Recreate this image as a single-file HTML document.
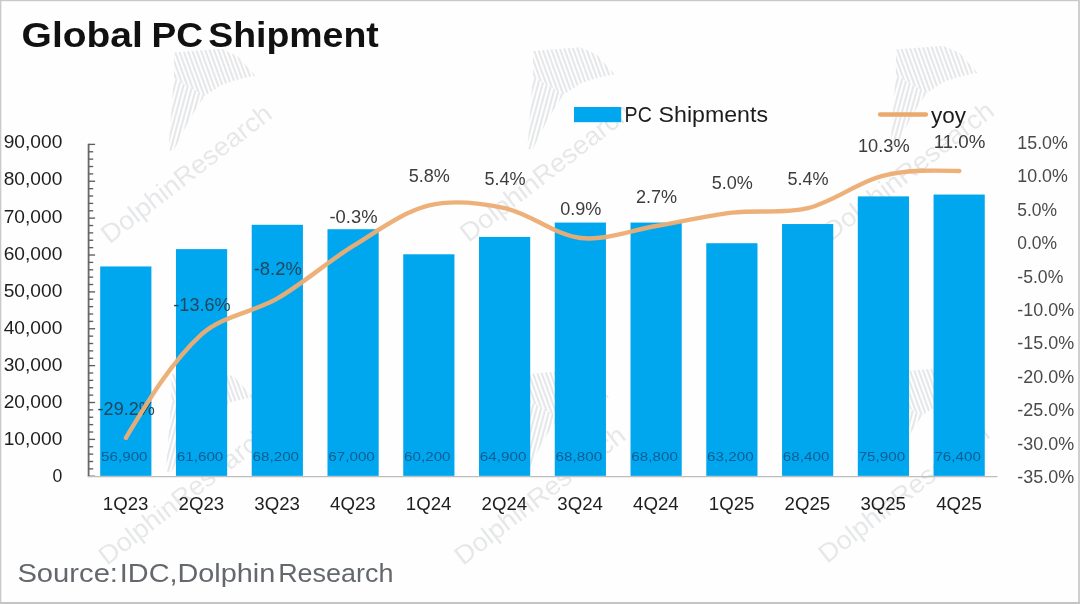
<!DOCTYPE html>
<html lang="en"><head><meta charset="utf-8"><title>Global PC Shipment</title>
<style>html,body{margin:0;padding:0;background:#fff;}body{width:1080px;height:604px;overflow:hidden;font-family:"Liberation Sans",Arial,sans-serif;}svg{display:block;}text{font-family:"Liberation Sans",Arial,sans-serif;}</style></head><body>
<svg width="1080" height="604" viewBox="0 0 1080 604" role="img" aria-label="Global PC Shipment chart">
<rect x="0" y="0" width="1080" height="604" fill="#fefefe"/>
<rect x="0" y="0" width="1080" height="1.2" fill="#c9c9c9"/>
<rect x="0" y="0" width="1.3" height="604" fill="#c9c9c9"/>
<rect x="1078" y="0" width="2" height="604" fill="#cfcfcf"/>
<rect x="0" y="602" width="1080" height="2" fill="#c4c4c4"/>
<g font-size="34.4" font-weight="bold" fill="#111">
<text y="47.4"><tspan x="21.6" textLength="121.2" lengthAdjust="spacingAndGlyphs">Global</tspan> <tspan x="151.6" textLength="51.5" lengthAdjust="spacingAndGlyphs">PC</tspan> <tspan x="208.2" textLength="170.6" lengthAdjust="spacingAndGlyphs">Shipment</tspan></text>
</g>
<defs><clipPath id="finA"><polygon points="74.3,-195.1 121.6,-198.7 138,-191.4 156.2,-171.4 148.9,-170.5 134.4,-166.8 121.6,-162.3 110.7,-155 105.2,-151.4 74.3,-169.6"/></clipPath><clipPath id="finB"><polygon points="74.3,-169.6 105.2,-151.4 101.6,-145.9 94.3,-135 87,-122.2 79.7,-107.6 74.3,-96.7 68.8,-96.7 71.5,-133.1"/></clipPath></defs>
<g transform="translate(99.5,247.5)" opacity="0.14"><g clip-path="url(#finA)" stroke="#5a6270" stroke-width="2.1"><line x1="30.0" y1="-200" x2="50.0" y2="-145"/><line x1="34.4" y1="-200" x2="54.4" y2="-145"/><line x1="38.8" y1="-200" x2="58.8" y2="-145"/><line x1="43.2" y1="-200" x2="63.2" y2="-145"/><line x1="47.6" y1="-200" x2="67.6" y2="-145"/><line x1="52.0" y1="-200" x2="72.0" y2="-145"/><line x1="56.4" y1="-200" x2="76.4" y2="-145"/><line x1="60.8" y1="-200" x2="80.8" y2="-145"/><line x1="65.2" y1="-200" x2="85.2" y2="-145"/><line x1="69.6" y1="-200" x2="89.6" y2="-145"/><line x1="74.0" y1="-200" x2="94.0" y2="-145"/><line x1="78.4" y1="-200" x2="98.4" y2="-145"/><line x1="82.8" y1="-200" x2="102.8" y2="-145"/><line x1="87.2" y1="-200" x2="107.2" y2="-145"/><line x1="91.6" y1="-200" x2="111.6" y2="-145"/><line x1="96.0" y1="-200" x2="116.0" y2="-145"/><line x1="100.4" y1="-200" x2="120.4" y2="-145"/><line x1="104.8" y1="-200" x2="124.8" y2="-145"/><line x1="109.2" y1="-200" x2="129.2" y2="-145"/><line x1="113.6" y1="-200" x2="133.6" y2="-145"/><line x1="118.0" y1="-200" x2="138.0" y2="-145"/><line x1="122.4" y1="-200" x2="142.4" y2="-145"/><line x1="126.8" y1="-200" x2="146.8" y2="-145"/><line x1="131.2" y1="-200" x2="151.2" y2="-145"/><line x1="135.6" y1="-200" x2="155.6" y2="-145"/><line x1="140.0" y1="-200" x2="160.0" y2="-145"/><line x1="144.4" y1="-200" x2="164.4" y2="-145"/><line x1="148.8" y1="-200" x2="168.8" y2="-145"/><line x1="153.2" y1="-200" x2="173.2" y2="-145"/><line x1="157.6" y1="-200" x2="177.6" y2="-145"/><line x1="162.0" y1="-200" x2="182.0" y2="-145"/></g><g clip-path="url(#finB)" stroke="#5a6270" stroke-width="2.1"><line x1="70.0" y1="-175" x2="48.4" y2="-95"/><line x1="74.4" y1="-175" x2="52.8" y2="-95"/><line x1="78.8" y1="-175" x2="57.2" y2="-95"/><line x1="83.2" y1="-175" x2="61.6" y2="-95"/><line x1="87.6" y1="-175" x2="66.0" y2="-95"/><line x1="92.0" y1="-175" x2="70.4" y2="-95"/><line x1="96.4" y1="-175" x2="74.8" y2="-95"/><line x1="100.8" y1="-175" x2="79.2" y2="-95"/><line x1="105.2" y1="-175" x2="83.6" y2="-95"/><line x1="109.6" y1="-175" x2="88.0" y2="-95"/><line x1="114.0" y1="-175" x2="92.4" y2="-95"/><line x1="118.4" y1="-175" x2="96.8" y2="-95"/><line x1="122.8" y1="-175" x2="101.2" y2="-95"/><line x1="127.2" y1="-175" x2="105.6" y2="-95"/><line x1="131.6" y1="-175" x2="110.0" y2="-95"/></g><text transform="translate(10,-3) rotate(-37.8)" x="0" y="0" font-size="26" fill="#5a6270" textLength="208" lengthAdjust="spacingAndGlyphs">DolphinResearch</text></g>
<g transform="translate(458.5,246)" opacity="0.14"><g clip-path="url(#finA)" stroke="#5a6270" stroke-width="2.1"><line x1="30.0" y1="-200" x2="50.0" y2="-145"/><line x1="34.4" y1="-200" x2="54.4" y2="-145"/><line x1="38.8" y1="-200" x2="58.8" y2="-145"/><line x1="43.2" y1="-200" x2="63.2" y2="-145"/><line x1="47.6" y1="-200" x2="67.6" y2="-145"/><line x1="52.0" y1="-200" x2="72.0" y2="-145"/><line x1="56.4" y1="-200" x2="76.4" y2="-145"/><line x1="60.8" y1="-200" x2="80.8" y2="-145"/><line x1="65.2" y1="-200" x2="85.2" y2="-145"/><line x1="69.6" y1="-200" x2="89.6" y2="-145"/><line x1="74.0" y1="-200" x2="94.0" y2="-145"/><line x1="78.4" y1="-200" x2="98.4" y2="-145"/><line x1="82.8" y1="-200" x2="102.8" y2="-145"/><line x1="87.2" y1="-200" x2="107.2" y2="-145"/><line x1="91.6" y1="-200" x2="111.6" y2="-145"/><line x1="96.0" y1="-200" x2="116.0" y2="-145"/><line x1="100.4" y1="-200" x2="120.4" y2="-145"/><line x1="104.8" y1="-200" x2="124.8" y2="-145"/><line x1="109.2" y1="-200" x2="129.2" y2="-145"/><line x1="113.6" y1="-200" x2="133.6" y2="-145"/><line x1="118.0" y1="-200" x2="138.0" y2="-145"/><line x1="122.4" y1="-200" x2="142.4" y2="-145"/><line x1="126.8" y1="-200" x2="146.8" y2="-145"/><line x1="131.2" y1="-200" x2="151.2" y2="-145"/><line x1="135.6" y1="-200" x2="155.6" y2="-145"/><line x1="140.0" y1="-200" x2="160.0" y2="-145"/><line x1="144.4" y1="-200" x2="164.4" y2="-145"/><line x1="148.8" y1="-200" x2="168.8" y2="-145"/><line x1="153.2" y1="-200" x2="173.2" y2="-145"/><line x1="157.6" y1="-200" x2="177.6" y2="-145"/><line x1="162.0" y1="-200" x2="182.0" y2="-145"/></g><g clip-path="url(#finB)" stroke="#5a6270" stroke-width="2.1"><line x1="70.0" y1="-175" x2="48.4" y2="-95"/><line x1="74.4" y1="-175" x2="52.8" y2="-95"/><line x1="78.8" y1="-175" x2="57.2" y2="-95"/><line x1="83.2" y1="-175" x2="61.6" y2="-95"/><line x1="87.6" y1="-175" x2="66.0" y2="-95"/><line x1="92.0" y1="-175" x2="70.4" y2="-95"/><line x1="96.4" y1="-175" x2="74.8" y2="-95"/><line x1="100.8" y1="-175" x2="79.2" y2="-95"/><line x1="105.2" y1="-175" x2="83.6" y2="-95"/><line x1="109.6" y1="-175" x2="88.0" y2="-95"/><line x1="114.0" y1="-175" x2="92.4" y2="-95"/><line x1="118.4" y1="-175" x2="96.8" y2="-95"/><line x1="122.8" y1="-175" x2="101.2" y2="-95"/><line x1="127.2" y1="-175" x2="105.6" y2="-95"/><line x1="131.6" y1="-175" x2="110.0" y2="-95"/></g><text transform="translate(10,-3) rotate(-37.8)" x="0" y="0" font-size="26" fill="#5a6270" textLength="208" lengthAdjust="spacingAndGlyphs">DolphinResearch</text></g>
<g transform="translate(821.5,244.5)" opacity="0.14"><g clip-path="url(#finA)" stroke="#5a6270" stroke-width="2.1"><line x1="30.0" y1="-200" x2="50.0" y2="-145"/><line x1="34.4" y1="-200" x2="54.4" y2="-145"/><line x1="38.8" y1="-200" x2="58.8" y2="-145"/><line x1="43.2" y1="-200" x2="63.2" y2="-145"/><line x1="47.6" y1="-200" x2="67.6" y2="-145"/><line x1="52.0" y1="-200" x2="72.0" y2="-145"/><line x1="56.4" y1="-200" x2="76.4" y2="-145"/><line x1="60.8" y1="-200" x2="80.8" y2="-145"/><line x1="65.2" y1="-200" x2="85.2" y2="-145"/><line x1="69.6" y1="-200" x2="89.6" y2="-145"/><line x1="74.0" y1="-200" x2="94.0" y2="-145"/><line x1="78.4" y1="-200" x2="98.4" y2="-145"/><line x1="82.8" y1="-200" x2="102.8" y2="-145"/><line x1="87.2" y1="-200" x2="107.2" y2="-145"/><line x1="91.6" y1="-200" x2="111.6" y2="-145"/><line x1="96.0" y1="-200" x2="116.0" y2="-145"/><line x1="100.4" y1="-200" x2="120.4" y2="-145"/><line x1="104.8" y1="-200" x2="124.8" y2="-145"/><line x1="109.2" y1="-200" x2="129.2" y2="-145"/><line x1="113.6" y1="-200" x2="133.6" y2="-145"/><line x1="118.0" y1="-200" x2="138.0" y2="-145"/><line x1="122.4" y1="-200" x2="142.4" y2="-145"/><line x1="126.8" y1="-200" x2="146.8" y2="-145"/><line x1="131.2" y1="-200" x2="151.2" y2="-145"/><line x1="135.6" y1="-200" x2="155.6" y2="-145"/><line x1="140.0" y1="-200" x2="160.0" y2="-145"/><line x1="144.4" y1="-200" x2="164.4" y2="-145"/><line x1="148.8" y1="-200" x2="168.8" y2="-145"/><line x1="153.2" y1="-200" x2="173.2" y2="-145"/><line x1="157.6" y1="-200" x2="177.6" y2="-145"/><line x1="162.0" y1="-200" x2="182.0" y2="-145"/></g><g clip-path="url(#finB)" stroke="#5a6270" stroke-width="2.1"><line x1="70.0" y1="-175" x2="48.4" y2="-95"/><line x1="74.4" y1="-175" x2="52.8" y2="-95"/><line x1="78.8" y1="-175" x2="57.2" y2="-95"/><line x1="83.2" y1="-175" x2="61.6" y2="-95"/><line x1="87.6" y1="-175" x2="66.0" y2="-95"/><line x1="92.0" y1="-175" x2="70.4" y2="-95"/><line x1="96.4" y1="-175" x2="74.8" y2="-95"/><line x1="100.8" y1="-175" x2="79.2" y2="-95"/><line x1="105.2" y1="-175" x2="83.6" y2="-95"/><line x1="109.6" y1="-175" x2="88.0" y2="-95"/><line x1="114.0" y1="-175" x2="92.4" y2="-95"/><line x1="118.4" y1="-175" x2="96.8" y2="-95"/><line x1="122.8" y1="-175" x2="101.2" y2="-95"/><line x1="127.2" y1="-175" x2="105.6" y2="-95"/><line x1="131.6" y1="-175" x2="110.0" y2="-95"/></g><text transform="translate(10,-3) rotate(-37.8)" x="0" y="0" font-size="26" fill="#5a6270" textLength="208" lengthAdjust="spacingAndGlyphs">DolphinResearch</text></g>
<g transform="translate(97,569)" opacity="0.14"><g clip-path="url(#finA)" stroke="#5a6270" stroke-width="2.1"><line x1="30.0" y1="-200" x2="50.0" y2="-145"/><line x1="34.4" y1="-200" x2="54.4" y2="-145"/><line x1="38.8" y1="-200" x2="58.8" y2="-145"/><line x1="43.2" y1="-200" x2="63.2" y2="-145"/><line x1="47.6" y1="-200" x2="67.6" y2="-145"/><line x1="52.0" y1="-200" x2="72.0" y2="-145"/><line x1="56.4" y1="-200" x2="76.4" y2="-145"/><line x1="60.8" y1="-200" x2="80.8" y2="-145"/><line x1="65.2" y1="-200" x2="85.2" y2="-145"/><line x1="69.6" y1="-200" x2="89.6" y2="-145"/><line x1="74.0" y1="-200" x2="94.0" y2="-145"/><line x1="78.4" y1="-200" x2="98.4" y2="-145"/><line x1="82.8" y1="-200" x2="102.8" y2="-145"/><line x1="87.2" y1="-200" x2="107.2" y2="-145"/><line x1="91.6" y1="-200" x2="111.6" y2="-145"/><line x1="96.0" y1="-200" x2="116.0" y2="-145"/><line x1="100.4" y1="-200" x2="120.4" y2="-145"/><line x1="104.8" y1="-200" x2="124.8" y2="-145"/><line x1="109.2" y1="-200" x2="129.2" y2="-145"/><line x1="113.6" y1="-200" x2="133.6" y2="-145"/><line x1="118.0" y1="-200" x2="138.0" y2="-145"/><line x1="122.4" y1="-200" x2="142.4" y2="-145"/><line x1="126.8" y1="-200" x2="146.8" y2="-145"/><line x1="131.2" y1="-200" x2="151.2" y2="-145"/><line x1="135.6" y1="-200" x2="155.6" y2="-145"/><line x1="140.0" y1="-200" x2="160.0" y2="-145"/><line x1="144.4" y1="-200" x2="164.4" y2="-145"/><line x1="148.8" y1="-200" x2="168.8" y2="-145"/><line x1="153.2" y1="-200" x2="173.2" y2="-145"/><line x1="157.6" y1="-200" x2="177.6" y2="-145"/><line x1="162.0" y1="-200" x2="182.0" y2="-145"/></g><g clip-path="url(#finB)" stroke="#5a6270" stroke-width="2.1"><line x1="70.0" y1="-175" x2="48.4" y2="-95"/><line x1="74.4" y1="-175" x2="52.8" y2="-95"/><line x1="78.8" y1="-175" x2="57.2" y2="-95"/><line x1="83.2" y1="-175" x2="61.6" y2="-95"/><line x1="87.6" y1="-175" x2="66.0" y2="-95"/><line x1="92.0" y1="-175" x2="70.4" y2="-95"/><line x1="96.4" y1="-175" x2="74.8" y2="-95"/><line x1="100.8" y1="-175" x2="79.2" y2="-95"/><line x1="105.2" y1="-175" x2="83.6" y2="-95"/><line x1="109.6" y1="-175" x2="88.0" y2="-95"/><line x1="114.0" y1="-175" x2="92.4" y2="-95"/><line x1="118.4" y1="-175" x2="96.8" y2="-95"/><line x1="122.8" y1="-175" x2="101.2" y2="-95"/><line x1="127.2" y1="-175" x2="105.6" y2="-95"/><line x1="131.6" y1="-175" x2="110.0" y2="-95"/></g><text transform="translate(10,-3) rotate(-37.8)" x="0" y="0" font-size="26" fill="#5a6270" textLength="208" lengthAdjust="spacingAndGlyphs">DolphinResearch</text></g>
<g transform="translate(453,569)" opacity="0.14"><g clip-path="url(#finA)" stroke="#5a6270" stroke-width="2.1"><line x1="30.0" y1="-200" x2="50.0" y2="-145"/><line x1="34.4" y1="-200" x2="54.4" y2="-145"/><line x1="38.8" y1="-200" x2="58.8" y2="-145"/><line x1="43.2" y1="-200" x2="63.2" y2="-145"/><line x1="47.6" y1="-200" x2="67.6" y2="-145"/><line x1="52.0" y1="-200" x2="72.0" y2="-145"/><line x1="56.4" y1="-200" x2="76.4" y2="-145"/><line x1="60.8" y1="-200" x2="80.8" y2="-145"/><line x1="65.2" y1="-200" x2="85.2" y2="-145"/><line x1="69.6" y1="-200" x2="89.6" y2="-145"/><line x1="74.0" y1="-200" x2="94.0" y2="-145"/><line x1="78.4" y1="-200" x2="98.4" y2="-145"/><line x1="82.8" y1="-200" x2="102.8" y2="-145"/><line x1="87.2" y1="-200" x2="107.2" y2="-145"/><line x1="91.6" y1="-200" x2="111.6" y2="-145"/><line x1="96.0" y1="-200" x2="116.0" y2="-145"/><line x1="100.4" y1="-200" x2="120.4" y2="-145"/><line x1="104.8" y1="-200" x2="124.8" y2="-145"/><line x1="109.2" y1="-200" x2="129.2" y2="-145"/><line x1="113.6" y1="-200" x2="133.6" y2="-145"/><line x1="118.0" y1="-200" x2="138.0" y2="-145"/><line x1="122.4" y1="-200" x2="142.4" y2="-145"/><line x1="126.8" y1="-200" x2="146.8" y2="-145"/><line x1="131.2" y1="-200" x2="151.2" y2="-145"/><line x1="135.6" y1="-200" x2="155.6" y2="-145"/><line x1="140.0" y1="-200" x2="160.0" y2="-145"/><line x1="144.4" y1="-200" x2="164.4" y2="-145"/><line x1="148.8" y1="-200" x2="168.8" y2="-145"/><line x1="153.2" y1="-200" x2="173.2" y2="-145"/><line x1="157.6" y1="-200" x2="177.6" y2="-145"/><line x1="162.0" y1="-200" x2="182.0" y2="-145"/></g><g clip-path="url(#finB)" stroke="#5a6270" stroke-width="2.1"><line x1="70.0" y1="-175" x2="48.4" y2="-95"/><line x1="74.4" y1="-175" x2="52.8" y2="-95"/><line x1="78.8" y1="-175" x2="57.2" y2="-95"/><line x1="83.2" y1="-175" x2="61.6" y2="-95"/><line x1="87.6" y1="-175" x2="66.0" y2="-95"/><line x1="92.0" y1="-175" x2="70.4" y2="-95"/><line x1="96.4" y1="-175" x2="74.8" y2="-95"/><line x1="100.8" y1="-175" x2="79.2" y2="-95"/><line x1="105.2" y1="-175" x2="83.6" y2="-95"/><line x1="109.6" y1="-175" x2="88.0" y2="-95"/><line x1="114.0" y1="-175" x2="92.4" y2="-95"/><line x1="118.4" y1="-175" x2="96.8" y2="-95"/><line x1="122.8" y1="-175" x2="101.2" y2="-95"/><line x1="127.2" y1="-175" x2="105.6" y2="-95"/><line x1="131.6" y1="-175" x2="110.0" y2="-95"/></g><text transform="translate(10,-3) rotate(-37.8)" x="0" y="0" font-size="26" fill="#5a6270" textLength="208" lengthAdjust="spacingAndGlyphs">DolphinResearch</text></g>
<g transform="translate(817,567)" opacity="0.14"><g clip-path="url(#finA)" stroke="#5a6270" stroke-width="2.1"><line x1="30.0" y1="-200" x2="50.0" y2="-145"/><line x1="34.4" y1="-200" x2="54.4" y2="-145"/><line x1="38.8" y1="-200" x2="58.8" y2="-145"/><line x1="43.2" y1="-200" x2="63.2" y2="-145"/><line x1="47.6" y1="-200" x2="67.6" y2="-145"/><line x1="52.0" y1="-200" x2="72.0" y2="-145"/><line x1="56.4" y1="-200" x2="76.4" y2="-145"/><line x1="60.8" y1="-200" x2="80.8" y2="-145"/><line x1="65.2" y1="-200" x2="85.2" y2="-145"/><line x1="69.6" y1="-200" x2="89.6" y2="-145"/><line x1="74.0" y1="-200" x2="94.0" y2="-145"/><line x1="78.4" y1="-200" x2="98.4" y2="-145"/><line x1="82.8" y1="-200" x2="102.8" y2="-145"/><line x1="87.2" y1="-200" x2="107.2" y2="-145"/><line x1="91.6" y1="-200" x2="111.6" y2="-145"/><line x1="96.0" y1="-200" x2="116.0" y2="-145"/><line x1="100.4" y1="-200" x2="120.4" y2="-145"/><line x1="104.8" y1="-200" x2="124.8" y2="-145"/><line x1="109.2" y1="-200" x2="129.2" y2="-145"/><line x1="113.6" y1="-200" x2="133.6" y2="-145"/><line x1="118.0" y1="-200" x2="138.0" y2="-145"/><line x1="122.4" y1="-200" x2="142.4" y2="-145"/><line x1="126.8" y1="-200" x2="146.8" y2="-145"/><line x1="131.2" y1="-200" x2="151.2" y2="-145"/><line x1="135.6" y1="-200" x2="155.6" y2="-145"/><line x1="140.0" y1="-200" x2="160.0" y2="-145"/><line x1="144.4" y1="-200" x2="164.4" y2="-145"/><line x1="148.8" y1="-200" x2="168.8" y2="-145"/><line x1="153.2" y1="-200" x2="173.2" y2="-145"/><line x1="157.6" y1="-200" x2="177.6" y2="-145"/><line x1="162.0" y1="-200" x2="182.0" y2="-145"/></g><g clip-path="url(#finB)" stroke="#5a6270" stroke-width="2.1"><line x1="70.0" y1="-175" x2="48.4" y2="-95"/><line x1="74.4" y1="-175" x2="52.8" y2="-95"/><line x1="78.8" y1="-175" x2="57.2" y2="-95"/><line x1="83.2" y1="-175" x2="61.6" y2="-95"/><line x1="87.6" y1="-175" x2="66.0" y2="-95"/><line x1="92.0" y1="-175" x2="70.4" y2="-95"/><line x1="96.4" y1="-175" x2="74.8" y2="-95"/><line x1="100.8" y1="-175" x2="79.2" y2="-95"/><line x1="105.2" y1="-175" x2="83.6" y2="-95"/><line x1="109.6" y1="-175" x2="88.0" y2="-95"/><line x1="114.0" y1="-175" x2="92.4" y2="-95"/><line x1="118.4" y1="-175" x2="96.8" y2="-95"/><line x1="122.8" y1="-175" x2="101.2" y2="-95"/><line x1="127.2" y1="-175" x2="105.6" y2="-95"/><line x1="131.6" y1="-175" x2="110.0" y2="-95"/></g><text transform="translate(10,-3) rotate(-37.8)" x="0" y="0" font-size="26" fill="#5a6270" textLength="208" lengthAdjust="spacingAndGlyphs">DolphinResearch</text></g>
<g fill="#00a7ee">
<rect x="100.20" y="266.45" width="51.2" height="209.40"/>
<rect x="175.96" y="249.12" width="51.2" height="226.73"/>
<rect x="251.72" y="224.78" width="51.2" height="251.07"/>
<rect x="327.48" y="229.21" width="51.2" height="246.64"/>
<rect x="403.24" y="254.28" width="51.2" height="221.57"/>
<rect x="479.00" y="236.95" width="51.2" height="238.90"/>
<rect x="554.76" y="222.57" width="51.2" height="253.28"/>
<rect x="630.52" y="222.57" width="51.2" height="253.28"/>
<rect x="706.28" y="243.22" width="51.2" height="232.63"/>
<rect x="782.04" y="224.04" width="51.2" height="251.81"/>
<rect x="857.80" y="196.39" width="51.2" height="279.46"/>
<rect x="933.56" y="194.55" width="51.2" height="281.30"/>
</g>
<g stroke="#686868" stroke-width="1.8" fill="none">
<line x1="88.6" y1="143.8" x2="88.6" y2="476.85"/>
<line x1="88.6" y1="476.25" x2="95.1" y2="476.25" stroke="#5e5e5e" stroke-width="1.35"/>
<line x1="88.6" y1="468.88" x2="93.19999999999999" y2="468.88" stroke="#5e5e5e" stroke-width="1.35"/>
<line x1="88.6" y1="461.50" x2="93.19999999999999" y2="461.50" stroke="#5e5e5e" stroke-width="1.35"/>
<line x1="88.6" y1="454.13" x2="93.19999999999999" y2="454.13" stroke="#5e5e5e" stroke-width="1.35"/>
<line x1="88.6" y1="446.75" x2="93.19999999999999" y2="446.75" stroke="#5e5e5e" stroke-width="1.35"/>
<line x1="88.6" y1="439.38" x2="95.1" y2="439.38" stroke="#5e5e5e" stroke-width="1.35"/>
<line x1="88.6" y1="432.00" x2="93.19999999999999" y2="432.00" stroke="#5e5e5e" stroke-width="1.35"/>
<line x1="88.6" y1="424.63" x2="93.19999999999999" y2="424.63" stroke="#5e5e5e" stroke-width="1.35"/>
<line x1="88.6" y1="417.25" x2="93.19999999999999" y2="417.25" stroke="#5e5e5e" stroke-width="1.35"/>
<line x1="88.6" y1="409.88" x2="93.19999999999999" y2="409.88" stroke="#5e5e5e" stroke-width="1.35"/>
<line x1="88.6" y1="402.51" x2="95.1" y2="402.51" stroke="#5e5e5e" stroke-width="1.35"/>
<line x1="88.6" y1="395.13" x2="93.19999999999999" y2="395.13" stroke="#5e5e5e" stroke-width="1.35"/>
<line x1="88.6" y1="387.76" x2="93.19999999999999" y2="387.76" stroke="#5e5e5e" stroke-width="1.35"/>
<line x1="88.6" y1="380.38" x2="93.19999999999999" y2="380.38" stroke="#5e5e5e" stroke-width="1.35"/>
<line x1="88.6" y1="373.01" x2="93.19999999999999" y2="373.01" stroke="#5e5e5e" stroke-width="1.35"/>
<line x1="88.6" y1="365.63" x2="95.1" y2="365.63" stroke="#5e5e5e" stroke-width="1.35"/>
<line x1="88.6" y1="358.26" x2="93.19999999999999" y2="358.26" stroke="#5e5e5e" stroke-width="1.35"/>
<line x1="88.6" y1="350.88" x2="93.19999999999999" y2="350.88" stroke="#5e5e5e" stroke-width="1.35"/>
<line x1="88.6" y1="343.51" x2="93.19999999999999" y2="343.51" stroke="#5e5e5e" stroke-width="1.35"/>
<line x1="88.6" y1="336.14" x2="93.19999999999999" y2="336.14" stroke="#5e5e5e" stroke-width="1.35"/>
<line x1="88.6" y1="328.76" x2="95.1" y2="328.76" stroke="#5e5e5e" stroke-width="1.35"/>
<line x1="88.6" y1="321.39" x2="93.19999999999999" y2="321.39" stroke="#5e5e5e" stroke-width="1.35"/>
<line x1="88.6" y1="314.01" x2="93.19999999999999" y2="314.01" stroke="#5e5e5e" stroke-width="1.35"/>
<line x1="88.6" y1="306.64" x2="93.19999999999999" y2="306.64" stroke="#5e5e5e" stroke-width="1.35"/>
<line x1="88.6" y1="299.26" x2="93.19999999999999" y2="299.26" stroke="#5e5e5e" stroke-width="1.35"/>
<line x1="88.6" y1="291.89" x2="95.1" y2="291.89" stroke="#5e5e5e" stroke-width="1.35"/>
<line x1="88.6" y1="284.51" x2="93.19999999999999" y2="284.51" stroke="#5e5e5e" stroke-width="1.35"/>
<line x1="88.6" y1="277.14" x2="93.19999999999999" y2="277.14" stroke="#5e5e5e" stroke-width="1.35"/>
<line x1="88.6" y1="269.77" x2="93.19999999999999" y2="269.77" stroke="#5e5e5e" stroke-width="1.35"/>
<line x1="88.6" y1="262.39" x2="93.19999999999999" y2="262.39" stroke="#5e5e5e" stroke-width="1.35"/>
<line x1="88.6" y1="255.02" x2="95.1" y2="255.02" stroke="#5e5e5e" stroke-width="1.35"/>
<line x1="88.6" y1="247.64" x2="93.19999999999999" y2="247.64" stroke="#5e5e5e" stroke-width="1.35"/>
<line x1="88.6" y1="240.27" x2="93.19999999999999" y2="240.27" stroke="#5e5e5e" stroke-width="1.35"/>
<line x1="88.6" y1="232.89" x2="93.19999999999999" y2="232.89" stroke="#5e5e5e" stroke-width="1.35"/>
<line x1="88.6" y1="225.52" x2="93.19999999999999" y2="225.52" stroke="#5e5e5e" stroke-width="1.35"/>
<line x1="88.6" y1="218.14" x2="95.1" y2="218.14" stroke="#5e5e5e" stroke-width="1.35"/>
<line x1="88.6" y1="210.77" x2="93.19999999999999" y2="210.77" stroke="#5e5e5e" stroke-width="1.35"/>
<line x1="88.6" y1="203.40" x2="93.19999999999999" y2="203.40" stroke="#5e5e5e" stroke-width="1.35"/>
<line x1="88.6" y1="196.02" x2="93.19999999999999" y2="196.02" stroke="#5e5e5e" stroke-width="1.35"/>
<line x1="88.6" y1="188.65" x2="93.19999999999999" y2="188.65" stroke="#5e5e5e" stroke-width="1.35"/>
<line x1="88.6" y1="181.27" x2="95.1" y2="181.27" stroke="#5e5e5e" stroke-width="1.35"/>
<line x1="88.6" y1="173.90" x2="93.19999999999999" y2="173.90" stroke="#5e5e5e" stroke-width="1.35"/>
<line x1="88.6" y1="166.52" x2="93.19999999999999" y2="166.52" stroke="#5e5e5e" stroke-width="1.35"/>
<line x1="88.6" y1="159.15" x2="93.19999999999999" y2="159.15" stroke="#5e5e5e" stroke-width="1.35"/>
<line x1="88.6" y1="151.77" x2="93.19999999999999" y2="151.77" stroke="#5e5e5e" stroke-width="1.35"/>
<line x1="88.6" y1="144.40" x2="95.1" y2="144.40" stroke="#5e5e5e" stroke-width="1.35"/>
</g>
<line x1="88.0" y1="476.55" x2="997.5" y2="476.55" stroke="#bdbdbd" stroke-width="1.3"/>
<g font-size="18.6" fill="#1e1e1e" text-anchor="end">
<text x="62.3" y="482.45" textLength="9.8" lengthAdjust="spacingAndGlyphs">0</text>
<text x="62.3" y="445.32" textLength="58.6" lengthAdjust="spacingAndGlyphs">10,000</text>
<text x="62.3" y="408.18" textLength="58.6" lengthAdjust="spacingAndGlyphs">20,000</text>
<text x="62.3" y="371.05" textLength="58.6" lengthAdjust="spacingAndGlyphs">30,000</text>
<text x="62.3" y="333.92" textLength="58.6" lengthAdjust="spacingAndGlyphs">40,000</text>
<text x="62.3" y="296.78" textLength="58.6" lengthAdjust="spacingAndGlyphs">50,000</text>
<text x="62.3" y="259.65" textLength="58.6" lengthAdjust="spacingAndGlyphs">60,000</text>
<text x="62.3" y="222.52" textLength="58.6" lengthAdjust="spacingAndGlyphs">70,000</text>
<text x="62.3" y="185.38" textLength="58.6" lengthAdjust="spacingAndGlyphs">80,000</text>
<text x="62.3" y="148.25" textLength="58.6" lengthAdjust="spacingAndGlyphs">90,000</text>
</g>
<g font-size="18.4" fill="#4a4a4a">
<text x="1017.3" y="149.00" textLength="50.6" lengthAdjust="spacingAndGlyphs">15.0%</text>
<text x="1017.3" y="182.40" textLength="50.6" lengthAdjust="spacingAndGlyphs">10.0%</text>
<text x="1017.3" y="215.80" textLength="39.8" lengthAdjust="spacingAndGlyphs">5.0%</text>
<text x="1017.3" y="249.20" textLength="39.8" lengthAdjust="spacingAndGlyphs">0.0%</text>
<text x="1017.3" y="282.60" textLength="46.0" lengthAdjust="spacingAndGlyphs">-5.0%</text>
<text x="1017.3" y="316.00" textLength="56.8" lengthAdjust="spacingAndGlyphs">-10.0%</text>
<text x="1017.3" y="349.40" textLength="56.8" lengthAdjust="spacingAndGlyphs">-15.0%</text>
<text x="1017.3" y="382.80" textLength="56.8" lengthAdjust="spacingAndGlyphs">-20.0%</text>
<text x="1017.3" y="416.20" textLength="56.8" lengthAdjust="spacingAndGlyphs">-25.0%</text>
<text x="1017.3" y="449.60" textLength="56.8" lengthAdjust="spacingAndGlyphs">-30.0%</text>
<text x="1017.3" y="483.00" textLength="56.8" lengthAdjust="spacingAndGlyphs">-35.0%</text>
</g>
<g font-size="18.5" fill="#1e1e1e" text-anchor="middle">
<text x="125.60" y="509.5" textLength="45.6" lengthAdjust="spacingAndGlyphs">1Q23</text>
<text x="201.36" y="509.5" textLength="45.6" lengthAdjust="spacingAndGlyphs">2Q23</text>
<text x="277.12" y="509.5" textLength="45.6" lengthAdjust="spacingAndGlyphs">3Q23</text>
<text x="352.88" y="509.5" textLength="45.6" lengthAdjust="spacingAndGlyphs">4Q23</text>
<text x="428.64" y="509.5" textLength="45.6" lengthAdjust="spacingAndGlyphs">1Q24</text>
<text x="504.40" y="509.5" textLength="45.6" lengthAdjust="spacingAndGlyphs">2Q24</text>
<text x="580.16" y="509.5" textLength="45.6" lengthAdjust="spacingAndGlyphs">3Q24</text>
<text x="655.92" y="509.5" textLength="45.6" lengthAdjust="spacingAndGlyphs">4Q24</text>
<text x="731.68" y="509.5" textLength="45.6" lengthAdjust="spacingAndGlyphs">1Q25</text>
<text x="807.44" y="509.5" textLength="45.6" lengthAdjust="spacingAndGlyphs">2Q25</text>
<text x="883.20" y="509.5" textLength="45.6" lengthAdjust="spacingAndGlyphs">3Q25</text>
<text x="958.96" y="509.5" textLength="45.6" lengthAdjust="spacingAndGlyphs">4Q25</text>
</g>
<g font-size="12.8" fill="#0c5e93" text-anchor="middle">
<text x="124.30" y="460.8" textLength="46.5" lengthAdjust="spacingAndGlyphs">56,900</text>
<text x="200.06" y="460.8" textLength="46.5" lengthAdjust="spacingAndGlyphs">61,600</text>
<text x="275.82" y="460.8" textLength="46.5" lengthAdjust="spacingAndGlyphs">68,200</text>
<text x="351.58" y="460.8" textLength="46.5" lengthAdjust="spacingAndGlyphs">67,000</text>
<text x="427.34" y="460.8" textLength="46.5" lengthAdjust="spacingAndGlyphs">60,200</text>
<text x="503.10" y="460.8" textLength="46.5" lengthAdjust="spacingAndGlyphs">64,900</text>
<text x="578.86" y="460.8" textLength="46.5" lengthAdjust="spacingAndGlyphs">68,800</text>
<text x="654.62" y="460.8" textLength="46.5" lengthAdjust="spacingAndGlyphs">68,800</text>
<text x="730.38" y="460.8" textLength="46.5" lengthAdjust="spacingAndGlyphs">63,200</text>
<text x="806.14" y="460.8" textLength="46.5" lengthAdjust="spacingAndGlyphs">68,400</text>
<text x="881.90" y="460.8" textLength="46.5" lengthAdjust="spacingAndGlyphs">75,900</text>
<text x="957.66" y="460.8" textLength="46.5" lengthAdjust="spacingAndGlyphs">76,400</text>
</g>
<g font-size="18.4" fill="#3c3c3c" text-anchor="middle">
<text x="126.20" y="415.36" fill="#21475e" textLength="57.2" lengthAdjust="spacingAndGlyphs">-29.2%</text>
<text x="201.96" y="310.92" fill="#21475e" textLength="57.2" lengthAdjust="spacingAndGlyphs">-13.6%</text>
<text x="277.72" y="275.08" fill="#21475e" textLength="48.0" lengthAdjust="spacingAndGlyphs">-8.2%</text>
<text x="353.48" y="222.65" textLength="48.0" lengthAdjust="spacingAndGlyphs">-0.3%</text>
<text x="429.24" y="182.16" textLength="41.2" lengthAdjust="spacingAndGlyphs">5.8%</text>
<text x="505.00" y="184.82" textLength="41.2" lengthAdjust="spacingAndGlyphs">5.4%</text>
<text x="580.76" y="214.68" textLength="41.2" lengthAdjust="spacingAndGlyphs">0.9%</text>
<text x="656.52" y="202.74" textLength="41.2" lengthAdjust="spacingAndGlyphs">2.7%</text>
<text x="732.28" y="189.33" textLength="41.2" lengthAdjust="spacingAndGlyphs">5.0%</text>
<text x="808.04" y="184.82" textLength="41.2" lengthAdjust="spacingAndGlyphs">5.4%</text>
<text x="883.80" y="152.29" textLength="51.6" lengthAdjust="spacingAndGlyphs">10.3%</text>
<text x="959.56" y="147.65" textLength="51.6" lengthAdjust="spacingAndGlyphs">11.0%</text>
</g>
<path d="M126.00,437.76 C148.61,400.04 171.21,362.32 201.76,334.22 C221.72,315.86 253.46,312.39 277.52,298.38 C303.97,282.97 327.14,261.97 353.28,245.95 C377.65,231.00 402.21,212.16 429.04,205.46 C452.72,199.55 480.45,202.89 504.80,208.12 C530.96,213.73 554.55,234.91 580.56,237.98 C605.06,240.88 631.11,230.25 656.32,226.04 C681.61,221.80 706.65,215.64 732.08,212.63 C757.16,209.66 783.63,214.03 807.84,208.12 C834.14,201.69 857.30,182.04 883.60,175.59 C907.81,169.66 933.58,170.30 959.36,170.95" fill="none" stroke="#ecad74" stroke-opacity="0.96" stroke-width="4.4" stroke-linecap="round" stroke-linejoin="round"/>
<rect x="574" y="107" width="47.2" height="15.2" fill="#00a7ee"/>
<text y="122" font-size="21.9" fill="#1c1c1c"><tspan x="624.6" textLength="27.2" lengthAdjust="spacingAndGlyphs">PC</tspan> <tspan x="658.6" textLength="109.4" lengthAdjust="spacingAndGlyphs">Shipments</tspan></text>
<line x1="880" y1="114.5" x2="926" y2="114.5" stroke="#eaa96d" stroke-width="4.3" stroke-linecap="round"/>
<text x="931" y="122.5" font-size="21.9" fill="#1c1c1c" textLength="35" lengthAdjust="spacingAndGlyphs">yoy</text>
<g font-size="26.6" fill="#64686c">
<text y="582"><tspan x="17.4" textLength="100.6" lengthAdjust="spacingAndGlyphs">Source:</tspan> <tspan x="119.8" textLength="155.5" lengthAdjust="spacingAndGlyphs">IDC,Dolphin</tspan> <tspan x="278.2" textLength="115.2" lengthAdjust="spacingAndGlyphs">Research</tspan></text>
</g>
</svg></body></html>
